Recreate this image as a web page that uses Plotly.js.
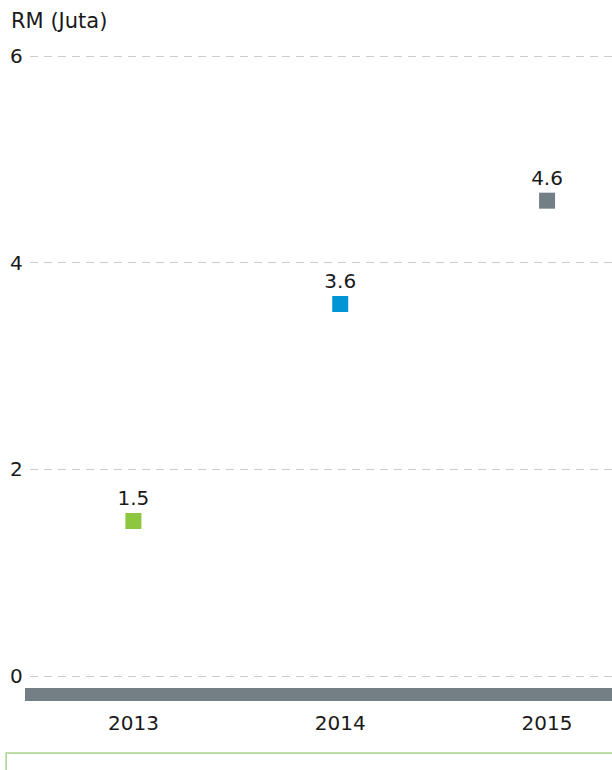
<!DOCTYPE html>
<html>
<head>
<meta charset="utf-8">
<script src="https://cdn.plot.ly/plotly-3.0.1.min.js"></script>
<style>html,body{margin:0;padding:0;background:#fff;}#chart{width:612px;height:770px;}</style>
</head>
<body>
<div id="chart"></div>
<script>
const years = ["2013", "2014", "2015"];
const values = [1.5, 3.6, 4.6];
const labels = ["1.5", "3.6", "4.6"];
const pointColors = ["#8dc63f", "#0096d6", "#737f85"];
const yTicks = [0, 2, 4, 6];
const unitLabel = "RM (Juta)";

const xPos = years.map((_, i) => i);
const font = "DejaVu Sans, sans-serif";

const trace = {
  type: "scatter",
  mode: "markers+text",
  x: xPos,
  y: values,
  text: labels,
  textposition: "top center",
  textfont: {family: font, size: 20, color: "#1a1a1a"},
  marker: {symbol: "square", size: 16, color: pointColors},
  hoverinfo: "skip",
  cliponaxis: false
};

const layout = {
  width: 612,
  height: 770,
  margin: {l: 30, r: 0, t: 25, b: 63},
  paper_bgcolor: "#ffffff",
  plot_bgcolor: "#ffffff",
  showlegend: false,
  title: {
    text: unitLabel,
    x: 11 / 612, xanchor: "left", xref: "container",
    y: 1 - 21 / 770, yanchor: "middle", yref: "container",
    font: {family: font, size: 21, color: "#1a1a1a"}
  },
  xaxis: {
    range: [-0.5, 2.314],
    tickvals: xPos,
    ticktext: years,
    showgrid: false, zeroline: false, showline: false,
    ticks: "",
    tickfont: {family: font, size: 20, color: "#1a1a1a"},
    ticklabelstandoff: 2,
    fixedrange: true
  },
  yaxis: {
    range: [-0.3, 6.3],
    tickvals: yTicks,
    ticktext: yTicks.map(v => String(v) + "\u00a0"),
    showgrid: true,
    gridcolor: "#cccccc",
    gridwidth: 1,
    griddash: "8px,6px",
    zeroline: false, showline: false,
    ticks: "",
    tickfont: {family: font, size: 20, color: "#1a1a1a"},
    ticklabelstandoff: 0,
    fixedrange: true
  },
  shapes: [
    {type: "rect", xref: "paper", yref: "y", x0: -0.0086, x1: 1.01, y0: -0.242, y1: -0.116,
     fillcolor: "#737f85", line: {width: 0}, layer: "above"},
    {type: "rect", xref: "paper", yref: "paper", x0: -0.041, x1: 1.02, y0: -0.2, y1: -0.0674,
     fillcolor: "rgba(0,0,0,0)", line: {color: "#a9d18e", width: 1.5}}
  ]
};

Plotly.newPlot("chart", [trace], layout, {displayModeBar: false, staticPlot: true});
</script>
</body>
</html>
